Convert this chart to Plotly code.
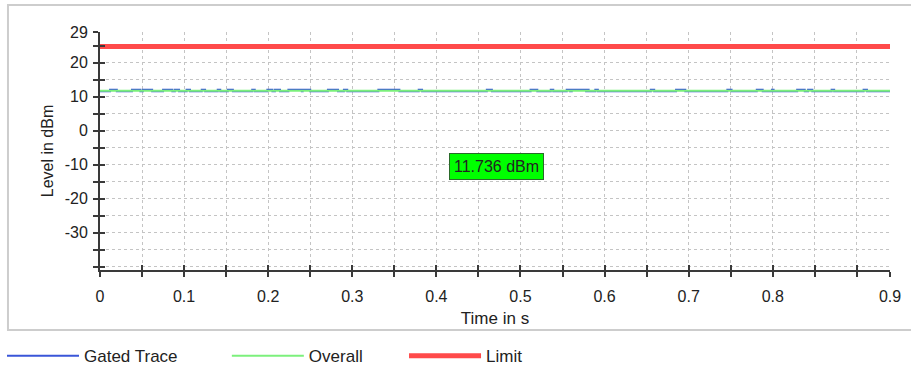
import plotly.graph_objects as go

# ---- data ----
x_min, x_max = 0.0, 0.9394
y_min, y_max = -41.0, 29.0

x_tick_vals = [0, 0.1, 0.2, 0.3, 0.4, 0.5, 0.6, 0.7, 0.8, x_max]
x_tick_text = ["0", "0.1", "0.2", "0.3", "0.4", "0.5", "0.6", "0.7", "0.8", "0.9"]
y_tick_vals = [-30, -20, -10, 0, 10, 20, 29]
y_tick_text = ["-30", "-20", "-10", "0", "10", "20", "29"]

overall_level = 11.736
limit_level = 24.7
gated_high = 12.0
gated_low = 11.6

# time spans (s) where the gated trace rises above the overall line
gated_seg_start = [0.012, 0.038, 0.051, 0.075, 0.089, 0.103, 0.121, 0.140, 0.152, 0.181,
                   0.199, 0.208, 0.224, 0.241, 0.271, 0.290, 0.331, 0.379, 0.460, 0.512,
                   0.536, 0.555, 0.561, 0.579, 0.589, 0.655, 0.685, 0.746, 0.781, 0.799,
                   0.829, 0.842, 0.870, 0.908]
gated_seg_end = [0.020, 0.048, 0.062, 0.086, 0.094, 0.107, 0.125, 0.143, 0.158, 0.184,
                 0.205, 0.214, 0.240, 0.250, 0.283, 0.294, 0.356, 0.383, 0.466, 0.520,
                 0.539, 0.559, 0.578, 0.581, 0.592, 0.659, 0.696, 0.751, 0.788, 0.801,
                 0.838, 0.847, 0.873, 0.912]

gated_t = [x_min]
gated_v = [gated_low]
for s, e in zip(gated_seg_start, gated_seg_end):
    gated_t += [s, s, e, e]
    gated_v += [gated_low, gated_high, gated_high, gated_low]
gated_t.append(x_max)
gated_v.append(gated_low)

FONT = "Liberation Sans, Arial, sans-serif"
GRID = "#c4c4c4"
AX = "#3a3a3a"

fig = go.Figure()
fig.add_trace(go.Scatter(x=gated_t, y=gated_v, mode="lines", name="Gated Trace",
                         line=dict(color="#3a56d8", width=2), legend="legend"))
fig.add_trace(go.Scatter(x=[x_min, x_max], y=[overall_level, overall_level], mode="lines",
                         name="Overall", line=dict(color="#7cf07c", width=2), legend="legend2"))
fig.add_trace(go.Scatter(x=[x_min, x_max], y=[limit_level, limit_level], mode="lines",
                         name="Limit", line=dict(color="#ff4a4a", width=5), legend="legend3"))

common_x = dict(range=[x_min, x_max], showline=True, linecolor=AX, linewidth=2, automargin=False,
                ticks="outside", ticklen=5, tickwidth=1.5, tickcolor=AX, zeroline=False)
common_y = dict(range=[y_min, y_max], showline=True, linecolor=AX, linewidth=2, automargin=False,
                ticks="outside", ticklen=5, tickwidth=1.5, tickcolor=AX, zeroline=False)

leg = dict(y=0.035, xref="container", yref="container", xanchor="left", yanchor="middle",
           orientation="h", itemwidth=72, font=dict(size=17, color="#222"),
           bgcolor="rgba(0,0,0,0)")

fig.update_layout(
    width=911, height=369,
    margin=dict(l=100, r=21, t=32, b=99, autoexpand=False),
    paper_bgcolor="white", plot_bgcolor="white",
    font=dict(family=FONT, size=16, color="#222"),
    xaxis=dict(**common_x, tickvals=x_tick_vals, ticktext=x_tick_text,
               showgrid=True, gridcolor=GRID, griddash="3px,3px", gridwidth=1,
               minor=dict(dtick=0.05, tick0=0, ticks="outside", ticklen=5, tickwidth=1.5,
                          tickcolor=AX, showgrid=True, gridcolor=GRID, griddash="3px,3px"),
               ticklabelstandoff=6, tickfont=dict(size=16),
               title=dict(text="Time in s", standoff=8, font=dict(size=17))),
    yaxis=dict(**common_y, tickvals=y_tick_vals, ticktext=y_tick_text,
               showgrid=True, gridcolor=GRID, griddash="3px,3px", gridwidth=1,
               minor=dict(dtick=5, tick0=0, ticks="outside", ticklen=5, tickwidth=1.5,
                          tickcolor=AX, showgrid=True, gridcolor=GRID, griddash="3px,3px"),
               ticklabelstandoff=2, tickfont=dict(size=16),
               title=dict(text="Level in dBm", standoff=7, font=dict(size=16))),
    xaxis2=dict(**{**common_x, "ticks": "inside"}, overlaying="x", tickvals=x_tick_vals,
                showticklabels=False, showgrid=False,
                minor=dict(dtick=0.05, tick0=0, ticks="inside", ticklen=5, tickwidth=1.5,
                           tickcolor=AX, showgrid=False)),
    yaxis2=dict(**{**common_y, "ticks": "inside"}, overlaying="y", tickvals=y_tick_vals,
                showticklabels=False, showgrid=False,
                minor=dict(dtick=5, tick0=0, ticks="inside", ticklen=5, tickwidth=1.5,
                           tickcolor=AX, showgrid=False)),
    legend=dict(x=0.0022, **leg),
    legend2=dict(x=0.249, **leg),
    legend3=dict(x=0.4435, **leg),
    shapes=[dict(type="rect", xref="paper", yref="paper",
                 x0=-0.1165, x1=1.06, y0=-0.252, y1=1.113,
                 line=dict(color="#cdcdcd", width=2), layer="below")],
    annotations=[dict(x=0.471, y=-10.7, xref="x", yref="y", text="11.736 dBm",
                      showarrow=False, bgcolor="#00ff00", bordercolor="#2a6a2a",
                      borderwidth=1, borderpad=4, font=dict(size=16, color="#222"))],
)
# invisible trace to activate the overlay axes for crossing ticks
fig.add_trace(go.Scatter(x=[x_min], y=[y_min], xaxis="x2", yaxis="y2", mode="lines",
                         showlegend=False, hoverinfo="skip", line=dict(width=0)))

fig.write_html("out.html", config={"displayModeBar": False},
               post_script="document.body.style.margin='0px';document.body.style.overflow='hidden';")
